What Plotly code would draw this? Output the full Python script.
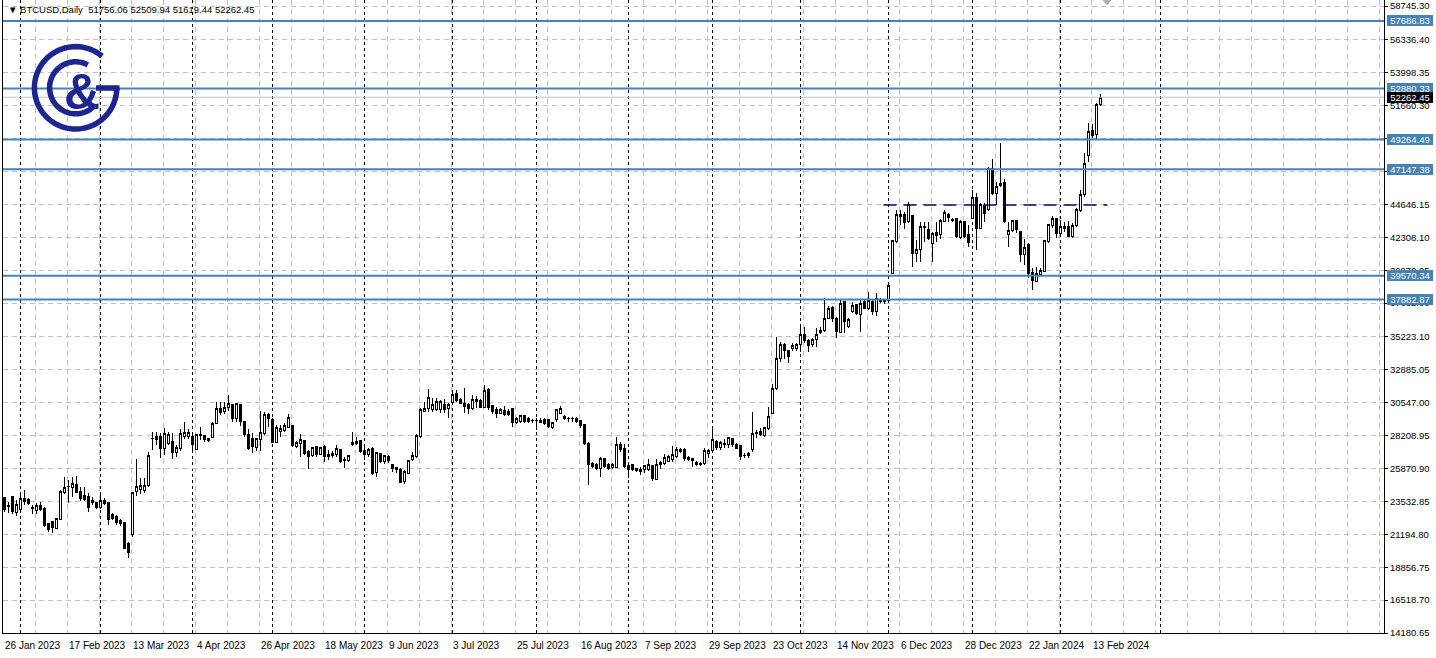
import numpy as np
import plotly.graph_objects as go

# ---------------- data ----------------
bar_open = [
    23826, 23162, 23873, 22736, 22973, 23707, 23636, 23044, 22878, 23234,
    23044, 21931, 22096, 21623, 22262, 24158, 24584, 24513, 24750, 24205,
    23921, 23873, 23589, 23447, 23091, 23565, 23447, 22570, 22452, 22144,
    22025, 20509, 21149, 24229, 24347, 24300, 24631, 28019, 28137, 28137,
    27308, 27664, 27782, 27000, 27308, 28137, 28137, 28137, 27237, 28185,
    28185, 27995, 28090, 29085, 30151, 29914, 30198, 30388, 29440, 30388,
    29203, 28256, 28019, 27379, 27948, 28327, 29677, 29369, 27735, 28493,
    28540, 28800, 28919, 27427, 27616, 27829, 27071, 26787, 27427, 26882,
    27427, 26882, 26953, 26834, 27190, 26526, 26408, 27711, 27616, 27853,
    27119, 26834, 27308, 25579, 26953, 26361, 26716, 26124, 25934, 25816,
    24939, 25532, 26479, 26716, 28137, 29961, 30151, 30080, 30080, 30080,
    30435, 30151, 30577, 31170, 30814, 30506, 30388, 30151, 30625, 30743,
    30222, 31454, 30317, 30033, 29796, 29985, 29961, 30151, 29156, 29203,
    29630, 29440, 29274, 29290, 29274, 29322, 29322, 28777, 29322, 29796,
    29560, 29441, 29410, 29394, 29251, 28967, 27664, 26243, 26124, 25887,
    26598, 26124, 25935, 25935, 27593, 27309, 26053, 26124, 25887, 25816,
    25769, 25769, 26077, 25106, 26124, 26243, 26361, 26527, 26717, 27072,
    27191, 26669, 26551, 26314, 26243, 26243, 26954, 27119, 27783, 27356,
    27546, 27593, 27972, 27546, 27475, 26788, 26764, 27191, 28328, 28493,
    28186, 28731, 29797, 31573, 33658, 34653, 34250, 34420, 34416, 34653,
    35411, 34937, 34700, 35079, 35553, 35648, 36548, 37306, 36548, 35550,
    37733, 35956, 37022, 37496, 36786, 37733, 37260, 37733, 37022, 37899,
    37760, 37804, 39748, 41999, 43894, 43894, 43420, 43823, 41169, 41450,
    43065, 42828, 41880, 42660, 42520, 43420, 43941, 43560, 43657, 42283,
    43420, 42473, 43657, 45150, 42946, 44600, 44249, 47163, 45434, 45955,
    46215, 42520, 42757, 43500, 42709, 41098, 41809, 39819, 39156, 39677,
    39867, 41999, 43136, 43610, 42600, 43065, 43065, 42354, 43136, 44178,
    45316, 48111, 49864, 49627, 51756.06,
]
bar_high = [
    23873, 23518, 23921, 23636, 24229, 24347, 23755, 23281, 23399, 23471,
    23115, 22025, 22144, 22381, 24347, 25247, 25058, 25247, 25342, 24584,
    24584, 24110, 23873, 23518, 23992, 23755, 23518, 22689, 22570, 22262,
    22096, 20675, 24229, 26527, 25176, 25176, 27024, 28493, 28493, 28422,
    28730, 28493, 28374, 27545, 28659, 29156, 28682, 28422, 28303, 28848,
    28256, 28066, 29156, 30577, 30625, 30625, 31099, 30459, 30506, 30459,
    29251, 28659, 28374, 28066, 29985, 29914, 29843, 29440, 28967, 28967,
    29085, 29725, 28967, 27829, 28303, 27853, 27190, 27427, 27474, 27427,
    27545, 27190, 27119, 27545, 27261, 26716, 26834, 28445, 28137, 27900,
    27427, 27308, 27427, 27071, 27000, 26834, 26834, 26171, 26005, 25887,
    25769, 26479, 27071, 28303, 30151, 30577, 31525, 30862, 30909, 30767,
    30814, 30506, 31383, 31454, 30909, 31572, 30506, 31099, 31051, 30814,
    31809, 31572, 30388, 30222, 30151, 30340, 30080, 30198, 29559, 29677,
    29677, 29535, 29393, 29488, 29488, 29440, 29369, 29203, 30104, 30340,
    29678, 29560, 29560, 29560, 29323, 29015, 27783, 26361, 26243, 26717,
    26646, 26243, 26243, 28138, 27783, 27593, 26124, 26172, 25935, 26006,
    26124, 26551, 26124, 26551, 26409, 26882, 26835, 27475, 27427, 27356,
    27309, 26764, 26646, 26409, 26361, 27309, 27261, 28683, 27901, 27830,
    27972, 28138, 28067, 27664, 27546, 26954, 27072, 29915, 28612, 28778,
    28849, 30270, 31857, 35245, 34890, 34771, 34300, 34770, 34771, 35956,
    35956, 35079, 35127, 35837, 35909, 37969, 37448, 37448, 36666, 37852,
    37804, 36549, 37733, 37567, 37852, 37852, 38444, 37852, 38373, 37970,
    37899, 38918, 42117, 44249, 44249, 44131, 44794, 43894, 42117, 43420,
    43420, 43420, 42709, 43420, 43610, 44249, 44012, 43657, 43704, 43538,
    43467, 43183, 45700, 45434, 44723, 44720, 47329, 47874, 46263, 48987,
    46452, 43420, 43538, 43538, 42757, 42165, 41880, 40151, 40222, 40103,
    42117, 43231, 43847, 43657, 43538, 43420, 43467, 43302, 44415, 45671,
    48277, 50409, 50338, 51830, 52509.94,
]
bar_low = [
    22807, 22736, 22641, 22499, 22926, 23281, 23281, 22641, 22641, 22878,
    21741, 21386, 21315, 21552, 22215, 24063, 23399, 23873, 24110, 23589,
    23565, 22784, 23281, 23020, 22973, 23281, 21860, 22215, 21860, 21812,
    20130, 19538, 21031, 23921, 24063, 24110, 24584, 27190, 27545, 26598,
    26834, 27545, 26527, 26716, 27142, 27972, 27972, 27190, 27190, 27900,
    27782, 27735, 28019, 29038, 29677, 29748, 29985, 29203, 29203, 28895,
    28137, 27190, 27000, 27142, 27142, 28256, 28848, 27664, 27690, 28137,
    28445, 28730, 27427, 27356, 26716, 26834, 25816, 26716, 26716, 26834,
    26313, 26479, 26598, 26716, 26290, 25887, 26313, 27498, 27545, 26953,
    26479, 26716, 25413, 25295, 26290, 26171, 26242, 25650, 25532, 24821,
    24750, 25460, 26408, 26645, 28066, 29867, 29914, 29867, 29961, 29796,
    29796, 29488, 30506, 30625, 30435, 29796, 29725, 30033, 30151, 30151,
    30151, 30033, 29725, 29440, 29725, 29630, 29630, 28848, 29014, 29085,
    29085, 29132, 29085, 28611, 29085, 28967, 28730, 28682, 29203, 29725,
    29323, 29204, 29157, 29086, 28778, 27546, 24703, 25887, 25769, 25295,
    25887, 25769, 25816, 25887, 27072, 25887, 25177, 25698, 25603, 25414,
    25532, 25698, 24987, 25035, 25816, 26124, 26314, 26361, 26646, 26954,
    26409, 26409, 26006, 26077, 26077, 26124, 26598, 27072, 27191, 27191,
    27309, 27309, 27427, 27238, 26480, 26598, 26646, 27072, 28067, 28209,
    28138, 28612, 29725, 31455, 33468, 33658, 33380, 34230, 34226, 34179,
    34819, 34179, 34534, 34534, 35411, 35553, 36477, 36311, 35127, 35480,
    35530, 35838, 36904, 36786, 35601, 37188, 37141, 36786, 36715, 37662,
    37567, 37733, 39677, 41880, 43183, 42899, 43302, 40222, 40577, 40577,
    42000, 42117, 40577, 42000, 42188, 43372, 43420, 43420, 42283, 42188,
    42283, 41643, 43609, 41406, 42899, 43370, 44178, 45316, 44605, 45908,
    43302, 41643, 42709, 42591, 40577, 40340, 39440, 38564, 39109, 39582,
    39819, 41880, 42993, 42283, 42354, 42709, 42300, 42236, 43065, 44083,
    45197, 47684, 49390, 49295, 51619.44,
]
bar_close = [
    22973, 23210, 22807, 23281, 23707, 23518, 23399, 23091, 23234, 22973,
    21789, 21552, 21694, 22286, 24229, 24536, 24560, 24821, 24158, 23755,
    23636, 23115, 23447, 23091, 23565, 23399, 22262, 22333, 22025, 21978,
    20201, 19893, 24181, 24584, 24631, 24655, 26763, 28040, 27948, 27308,
    28374, 28256, 27000, 27356, 28374, 28422, 28422, 27545, 28256, 28256,
    27948, 27830, 29085, 30151, 29843, 30222, 30459, 29440, 30459, 29203,
    28256, 27308, 27427, 27972, 28445, 29677, 29393, 27711, 28800, 28730,
    28896, 29511, 27498, 27711, 27900, 26953, 26716, 27379, 26882, 27379,
    26716, 26716, 26787, 27308, 26361, 26408, 26787, 27545, 27782, 27071,
    26834, 27190, 25532, 27024, 26361, 26763, 26408, 25887, 25769, 24892,
    25650, 26408, 26787, 28185, 30033, 30151, 30909, 30388, 30672, 30672,
    30033, 30435, 31146, 30743, 30506, 30269, 30151, 30814, 30814, 30222,
    31383, 30198, 29914, 29796, 30033, 29725, 29725, 29156, 29440, 29630,
    29203, 29203, 29290, 29274, 29156, 29085, 28848, 29156, 30033, 30152,
    29394, 29430, 29394, 29204, 28920, 27664, 26124, 26006, 25887, 26598,
    26006, 25887, 26172, 27593, 27191, 26006, 25769, 25769, 25698, 25651,
    26053, 26124, 25130, 26124, 26290, 26646, 26717, 26835, 27191, 27238,
    26598, 26527, 26409, 26172, 26124, 27119, 27119, 27901, 27356, 27735,
    27664, 28067, 27546, 27309, 26717, 26800, 26954, 28375, 28446, 28304,
    28778, 29560, 31573, 33658, 34653, 34250, 33830, 34610, 34653, 35411,
    34937, 34605, 35079, 35411, 35648, 36548, 37259, 36548, 35600, 37615,
    36312, 36430, 37425, 36904, 37615, 37260, 37804, 37022, 37970, 37733,
    37800, 38847, 42046, 43894, 43776, 43372, 44652, 41169, 41450, 43065,
    42990, 42236, 42591, 42450, 43467, 44060, 43704, 43520, 42354, 43420,
    42354, 41951, 45150, 42946, 44605, 44000, 47163, 45434, 45908, 46144,
    43420, 42757, 43467, 42850, 41098, 41596, 39748, 39204, 39748, 39914,
    42046, 43183, 43610, 42600, 43100, 42946, 42354, 43136, 44249, 45363,
    47566, 49816, 49532, 51759, 52262.45,
]
assert len(bar_open) == len(bar_high) == len(bar_low) == len(bar_close) == 275

bar_index = list(range(len(bar_close)))

x_tick_bars = [0, 16, 32, 48, 64, 80, 96, 112, 128, 144, 160, 176, 192, 208, 224, 240, 256, 272]
x_tick_labels = ["26 Jan 2023", "17 Feb 2023", "13 Mar 2023", "4 Apr 2023", "26 Apr 2023",
                 "18 May 2023", "9 Jun 2023", "3 Jul 2023", "25 Jul 2023", "16 Aug 2023",
                 "7 Sep 2023", "29 Sep 2023", "23 Oct 2023", "14 Nov 2023", "6 Dec 2023",
                 "28 Dec 2023", "22 Jan 2024", "13 Feb 2024"]
month_start_bars = [4, 24, 47, 67, 90, 112, 133, 156, 177, 199, 221, 242, 264, 289]

price_ticks = [58745.30, 56336.40, 53998.35, 51660.30, 49322.25, 46984.20, 44646.15,
               42308.10, 39970.05, 37632.00, 35223.10, 32885.05, 30547.00, 28208.95,
               25870.90, 23532.85, 21194.80, 18856.75, 16518.70, 14180.65]
level_prices = [57686.83, 52880.33, 49264.49, 47147.38, 39570.34, 37882.87]
bid_price = 52262.45
breakout_price = 44600
breakout_bars = [219.75, 275.75]
header_text = "\u25BC BTCUSD,Daily\u00a0\u00a051756.06 52509.94 51619.44 52262.45"

# ---------------- layout geometry ----------------
W, H = 1436, 658
ML, MR, MT, MB = 3, 52, 0, 25
PW, PH = W - ML - MR, H - MT - MB
X_RANGE = [-0.375, -0.375 + PW / 4.0]
Y_RANGE = [14181, 59175]
FONT = "Liberation Sans, Arial, sans-serif"
STEEL = "#4682B4"
LOGO = "#1c2590"


def pxx(x):
    return (x - ML) / PW


def pxy(y):
    return (MT + PH - y) / PH


fig = go.Figure()
fig.add_trace(go.Candlestick(
    x=bar_index, open=bar_open, high=bar_high, low=bar_low, close=bar_close,
    increasing=dict(line=dict(color="black", width=1), fillcolor="white"),
    decreasing=dict(line=dict(color="black", width=1), fillcolor="black"),
    whiskerwidth=0, hoverinfo="skip", showlegend=False,
))

shapes = []
for b in month_start_bars:
    shapes.append(dict(type="line", xref="x", yref="paper", x0=b, x1=b, y0=0, y1=1,
                       line=dict(color="black", width=1, dash="3px,3px"), layer="below"))
for p in level_prices:
    shapes.append(dict(type="line", xref="paper", yref="y", x0=0, x1=1, y0=p, y1=p,
                       line=dict(color=STEEL, width=2), layer="above"))
shapes.append(dict(type="line", xref="paper", yref="y", x0=0, x1=1, y0=bid_price, y1=bid_price,
                   line=dict(color="#c0c0c0", width=1), layer="above"))
shapes.append(dict(type="line", xref="x", yref="y", x0=breakout_bars[0], x1=breakout_bars[1],
                   y0=breakout_price, y1=breakout_price,
                   line=dict(color="#0a0a60", width=1.5, dash="13px,7px"), layer="above"))


def arc(cx, cy, r, a0, a1, n=80):
    angs = np.radians(np.linspace(a0, a1, n))
    pts = [(pxx(cx + r * np.cos(a)), pxy(cy - r * np.sin(a))) for a in angs]
    return "M " + " L ".join(f"{x:.5f},{y:.5f}" for x, y in pts)


cx, cy = 75.6, 87.8
shapes.append(dict(type="path", xref="paper", yref="paper", path=arc(cx, cy, 41.2, 50, 360),
                   line=dict(color=LOGO, width=5.5)))
shapes.append(dict(type="path", xref="paper", yref="paper",
                   path=f"M {pxx(96):.5f},{pxy(88):.5f} L {pxx(119.5):.5f},{pxy(88):.5f}",
                   line=dict(color=LOGO, width=5.5)))
shapes.append(dict(type="path", xref="paper", yref="paper", path=arc(cx, cy, 26, 62, 314),
                   line=dict(color=LOGO, width=5.5)))
# chart-shift marker
shapes.append(dict(type="path", xref="paper", yref="paper",
                   path=f"M {pxx(1103):.5f},{pxy(0):.5f} L {pxx(1111):.5f},{pxy(0):.5f} "
                        f"L {pxx(1107):.5f},{pxy(5):.5f} Z",
                   fillcolor="#b0b0b0", line=dict(color="#b0b0b0", width=1)))

annotations = [
    dict(xref="paper", yref="paper", x=pxx(6), y=pxy(10), xanchor="left", yanchor="middle",
         text=header_text, showarrow=False, font=dict(family=FONT, size=9.5, color="black")),
    dict(xref="paper", yref="paper", x=pxx(81.5), y=pxy(92), xanchor="center", yanchor="middle",
         text="&amp;", showarrow=False,
         font=dict(family="Liberation Sans, Arial", size=50, color=LOGO, weight="bold")),
]
for p in level_prices:
    annotations.append(dict(xref="paper", yref="y", x=1, y=p, xanchor="left", yanchor="middle",
                            xshift=3, text=f"{p:.2f}", showarrow=False, bgcolor=STEEL,
                            width=46, height=11, borderpad=0, borderwidth=0,
                            font=dict(family=FONT, size=9.5, color="white")))
annotations.append(dict(xref="paper", yref="y", x=1, y=bid_price, xanchor="left", yanchor="middle",
                        xshift=3, text=f"{bid_price:.2f}", showarrow=False, bgcolor="black",
                        width=46, height=11, borderpad=0, borderwidth=0,
                        font=dict(family=FONT, size=9.5, color="white")))

fig.update_layout(
    template="none",
    width=W, height=H,
    margin=dict(l=ML, r=MR, t=MT, b=MB, pad=0),
    paper_bgcolor="white", plot_bgcolor="white",
    showlegend=False,
    boxgap=0.5, boxgroupgap=0,
    shapes=shapes, annotations=annotations,
    font=dict(family=FONT, size=10, color="black"),
    xaxis=dict(
        range=X_RANGE, autorange=False, rangeslider=dict(visible=False),
        tickmode="array", tickvals=x_tick_bars, ticktext=x_tick_labels,
        ticklabelposition="outside right", ticks="", ticklabelstandoff=3, tickangle=0,
        tickfont=dict(family=FONT, size=10, color="black"),
        showgrid=False, zeroline=False,
        showline=True, linecolor="black", linewidth=1, mirror=False,
        minor=dict(tick0=-0.25, dtick=8, showgrid=True, gridcolor="#c0c0c0",
                   gridwidth=1, griddash="5px,4px", ticks=""),
        automargin=False, fixedrange=True,
    ),
    yaxis=dict(
        range=Y_RANGE, autorange=False, side="right",
        tickmode="array", tickvals=price_ticks, ticktext=[f"{v:.2f}" for v in price_ticks],
        ticks="outside", ticklen=3, tickcolor="black", tickwidth=1,
        tickfont=dict(family=FONT, size=9.5, color="black"),
        showgrid=True, gridcolor="#c0c0c0", gridwidth=1, griddash="5px,4px",
        zeroline=False, showline=True, linecolor="black", linewidth=1, mirror=True,
        automargin=False, fixedrange=True,
    ),
)

post = (
    "document.documentElement.style.margin='0';"
    "document.body.style.margin='0';document.body.style.padding='0';"
    "var st=document.createElement('style');"
    "st.innerHTML='g.boxlayer path{shape-rendering:crispEdges;}';"
    "document.head.appendChild(st);"
)
fig.write_html("out.html", config={"displayModeBar": False}, post_script=post)
